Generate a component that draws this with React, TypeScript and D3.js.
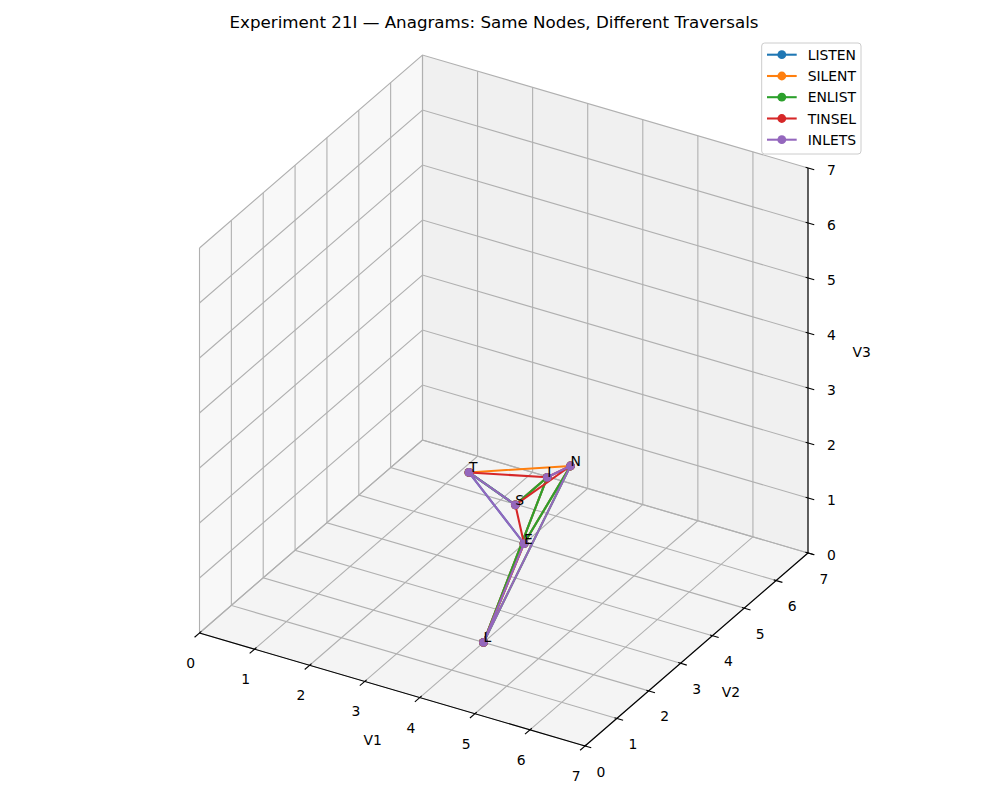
import React from 'react';
import * as d3 from 'd3';

// figure size
const W = 985;
const H = 795;
const title = 'Experiment 21I \u2014 Anagrams: Same Nodes, Different Traversals';

// graph nodes (letters) and their 3D coordinates
const nodeNames = ['L', 'I', 'S', 'T', 'E', 'N'];
const nodeV1 = [4, 4, 4, 2, 3, 5];
const nodeV2 = [2, 4, 3, 5, 5, 3];
const nodeV3 = [0, 2, 2, 1, 0, 3];

// traversals (each word walks the same nodes)
const words = ['LISTEN', 'SILENT', 'ENLIST', 'TINSEL', 'INLETS'];
const wordColors = ['#1f77b4', '#ff7f0e', '#2ca02c', '#d62728', '#9467bd'];

const tickValues = [0, 1, 2, 3, 4, 5, 6, 7];
const axisNames = ['V1', 'V2', 'V3'];

const FONT = '"DejaVu Sans", "Liberation Sans", sans-serif';

// oblique projection of the 3D box (elev 30, azim -60 look)
const origin: [number, number] = [199.5, 633];
const v1x = d3.scaleLinear().domain([0, 7]).range([0, 385.5]);
const v1y = d3.scaleLinear().domain([0, 7]).range([0, 113]);
const v2x = d3.scaleLinear().domain([0, 7]).range([0, 223]);
const v2y = d3.scaleLinear().domain([0, 7]).range([0, -193]);
const v3y = d3.scaleLinear().domain([0, 7]).range([0, -385]);

const proj = (a: number, b: number, c: number): [number, number] => [
  origin[0] + v1x(a) + v2x(b),
  origin[1] + v1y(a) + v2y(b) + v3y(c),
];

const line = d3.line<[number, number]>();
const poly = (pts: [number, number, number][]) =>
  line(pts.map((p) => proj(p[0], p[1], p[2])))! + 'Z';

// unit vectors on screen for tick directions
const exLen = Math.hypot(385.5, 113);
const ex: [number, number] = [385.5 / exLen, 113 / exLen];
const eyLen = Math.hypot(223, 193);
const ey: [number, number] = [223 / eyLen, -193 / eyLen];

export default function App() {
  const lo = 0;
  const hi = 7;

  const panes = [
    { d: poly([[lo, lo, lo], [hi, lo, lo], [hi, hi, lo], [lo, hi, lo]]), fill: '#f4f4f4' },
    { d: poly([[lo, lo, lo], [lo, hi, lo], [lo, hi, hi], [lo, lo, hi]]), fill: '#f8f8f8' },
    { d: poly([[lo, hi, lo], [hi, hi, lo], [hi, hi, hi], [lo, hi, hi]]), fill: '#f0f0f0' },
  ];

  const grid: string[] = [];
  tickValues.forEach((t) => {
    grid.push(line([proj(t, lo, lo), proj(t, hi, lo), proj(t, hi, hi)])!);
    grid.push(line([proj(hi, t, lo), proj(lo, t, lo), proj(lo, t, hi)])!);
    grid.push(line([proj(lo, lo, t), proj(lo, hi, t), proj(hi, hi, t)])!);
  });

  const tickIn = 2.5;
  const tickOut = 6.5;

  const nodeIndex = (ch: string) => nodeNames.indexOf(ch);
  const nodePos = nodeNames.map((_, i) => proj(nodeV1[i], nodeV2[i], nodeV3[i]));

  const legendRows = [54.7, 76, 97.2, 118.5, 139.7];

  return (
    <div style={{ position: 'absolute', left: 0, top: 0 }}>
      <svg width={W} height={H} style={{ display: 'block', background: '#fff' }} fontFamily={FONT}>
        <text x={494} y={28} textAnchor="middle" fontSize={16.7} fill="#000">
          {title}
        </text>

        {/* panes */}
        {panes.map((p, i) => (
          <path key={`pane-${i}`} d={p.d} fill={p.fill} stroke="none" />
        ))}

        {/* grid */}
        {grid.map((d, i) => (
          <path key={`grid-${i}`} d={d} fill="none" stroke="#b0b0b0" strokeWidth={1.1} />
        ))}

        {/* axis lines */}
        <path d={line([proj(lo, lo, lo), proj(hi, lo, lo)])!} stroke="#000" strokeWidth={1.1} fill="none" />
        <path d={line([proj(hi, lo, lo), proj(hi, hi, lo)])!} stroke="#000" strokeWidth={1.1} fill="none" />
        <path d={line([proj(hi, hi, lo), proj(hi, hi, hi)])!} stroke="#000" strokeWidth={1.1} fill="none" />

        {/* V1 ticks */}
        {tickValues.map((t) => {
          const [px, py] = proj(t, lo, lo);
          return (
            <g key={`t1-${t}`}>
              <line
                x1={px + ey[0] * tickIn}
                y1={py + ey[1] * tickIn}
                x2={px - ey[0] * tickOut}
                y2={py - ey[1] * tickOut}
                stroke="#000"
                strokeWidth={1.1}
              />
              <text x={px - 8.8} y={py + 30} textAnchor="middle" dominantBaseline="central" fontSize={13.9}>
                {t}
              </text>
            </g>
          );
        })}

        {/* V2 ticks */}
        {tickValues.map((t) => {
          const [px, py] = proj(hi, t, lo);
          return (
            <g key={`t2-${t}`}>
              <line
                x1={px - ex[0] * tickIn}
                y1={py - ex[1] * tickIn}
                x2={px + ex[0] * tickOut}
                y2={py + ex[1] * tickOut}
                stroke="#000"
                strokeWidth={1.1}
              />
              <text x={px + 16} y={py + 25.5} textAnchor="middle" dominantBaseline="central" fontSize={13.9}>
                {t}
              </text>
            </g>
          );
        })}

        {/* V3 ticks */}
        {tickValues.map((t) => {
          const [px, py] = proj(hi, hi, t);
          return (
            <g key={`t3-${t}`}>
              <line
                x1={px - ex[0] * tickIn}
                y1={py - ex[1] * tickIn}
                x2={px + ex[0] * tickOut}
                y2={py + ex[1] * tickOut}
                stroke="#000"
                strokeWidth={1.1}
              />
              <text x={px + 23.5} y={py + 2} textAnchor="middle" dominantBaseline="central" fontSize={13.9}>
                {t}
              </text>
            </g>
          );
        })}

        {/* axis labels */}
        {(() => {
          const m1 = proj(3.5, lo, lo);
          const m2 = proj(hi, 3.5, lo);
          const m3 = proj(hi, hi, 3.5);
          return (
            <g fontSize={13.9}>
              <text x={m1[0] - 19.7} y={m1[1] + 50.5} textAnchor="middle" dominantBaseline="central">
                {axisNames[0]}
              </text>
              <text x={m2[0] + 34.5} y={m2[1] + 42.5} textAnchor="middle" dominantBaseline="central">
                {axisNames[1]}
              </text>
              <text x={m3[0] + 53.7} y={m3[1] - 8.5} textAnchor="middle" dominantBaseline="central">
                {axisNames[2]}
              </text>
            </g>
          );
        })()}

        {/* traversals */}
        {words.map((w, wi) => {
          const pts = w.split('').map((ch) => nodePos[nodeIndex(ch)]);
          return (
            <g key={`word-${w}`}>
              <path d={line(pts)!} fill="none" stroke={wordColors[wi]} strokeWidth={2.08} strokeLinejoin="round" />
              {pts.map((p, i) => (
                <circle key={i} cx={p[0]} cy={p[1]} r={4.4} fill={wordColors[wi]} />
              ))}
            </g>
          );
        })}

        {/* node labels */}
        {nodeNames.map((n, i) => (
          <text key={`lbl-${n}`} x={nodePos[i][0]} y={nodePos[i][1]} fontSize={13.9} fill="#000">
            {n}
          </text>
        ))}

        {/* legend */}
        <rect x={761.7} y={43} width={99.3} height={111} rx={3} fill="#fff" fillOpacity={0.8} stroke="#cccccc" strokeWidth={1} />
        {words.map((w, i) => (
          <g key={`leg-${w}`}>
            <line x1={767} x2={796.7} y1={legendRows[i]} y2={legendRows[i]} stroke={wordColors[i]} strokeWidth={2.08} />
            <circle cx={781.8} cy={legendRows[i]} r={4.4} fill={wordColors[i]} />
            <text x={807.7} y={legendRows[i]} dominantBaseline="central" fontSize={13.9}>
              {w}
            </text>
          </g>
        ))}
      </svg>
    </div>
  );
}
